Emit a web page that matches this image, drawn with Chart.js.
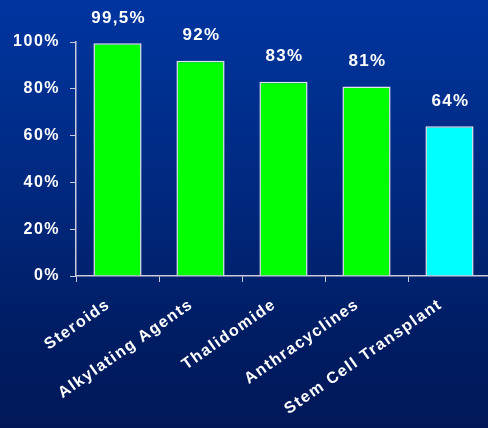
<!DOCTYPE html>
<html>
<head>
<meta charset="utf-8">
<script src="https://cdn.jsdelivr.net/npm/chart.js@4"></script>
<style>
  html, body {
    margin: 0;
    padding: 0;
    width: 488px;
    height: 428px;
    overflow: hidden;
    background: linear-gradient(to bottom, #0035a0 0%, #002a82 40%, #001c62 80%, #001858 100%);
  }
  #wrap {
    position: relative;
    width: 491px;
    height: 428px;
  }
</style>
</head>
<body>
<div id="wrap"><canvas id="chart"></canvas></div>
<script>
const categories = ['Steroids', 'Alkylating Agents', 'Thalidomide', 'Anthracyclines', 'Stem Cell Transplant'];
const responseRates = [99.5, 92, 83, 81, 64];
const barColors = ['#00ff00', '#00ff00', '#00ff00', '#00ff00', '#00ffff'];
const yTicks = [0, 20, 40, 60, 80, 100];

const pct = (v) => `${String(v).replace('.', ',')}%`;
const axisColor = '#c9cbdc';

// wider letter spacing, like the slide text
const spacingPlugin = {
  id: 'spacing',
  beforeDraw(chart) {
    chart.ctx.letterSpacing = '1.5px';
  },
};

// value printed above each bar
const valueLabels = {
  id: 'valueLabels',
  afterDatasetsDraw(chart) {
    const { ctx } = chart;
    const meta = chart.getDatasetMeta(0);
    ctx.save();
    ctx.letterSpacing = '1.3px';
    ctx.font = 'bold 17px "Liberation Sans", Arial, sans-serif';
    ctx.fillStyle = '#ffffff';
    ctx.textAlign = 'center';
    ctx.textBaseline = 'middle';
    meta.data.forEach((bar, i) => {
      ctx.fillText(pct(responseRates[i]), bar.x + 1, bar.y - 25);
    });
    ctx.restore();
  },
};

new Chart(document.getElementById('chart'), {
  type: 'bar',
  data: {
    labels: categories,
    datasets: [{
      data: responseRates,
      backgroundColor: barColors,
      borderColor: '#e4e6ee',
      borderWidth: 1.5,
      barPercentage: 0.58,
      categoryPercentage: 1,
    }],
  },
  options: {
    responsive: true,
    maintainAspectRatio: false,
    animation: false,
    layout: {
      padding: { top: 42, right: 0, left: 0, bottom: 0 },
    },
    plugins: {
      legend: { display: false },
      tooltip: { enabled: false },
    },
    scales: {
      x: {
        grid: {
          display: true,
          drawOnChartArea: false,
          color: axisColor,
          tickLength: 6,
          lineWidth: 1,
        },
        border: { color: axisColor, width: 1.5 },
        ticks: {
          color: '#ffffff',
          font: { family: '"Liberation Sans", Arial, sans-serif', size: 16, weight: 'bold' },
          minRotation: 35,
          maxRotation: 35,
          autoSkip: false,
          padding: 13,
          labelOffset: -9,
        },
        afterFit(scale) {
          scale.height = 152;
        },
      },
      y: {
        min: 0,
        max: 100,
        afterBuildTicks(scale) {
          scale.ticks = yTicks.map((value) => ({ value }));
        },
        grid: {
          display: true,
          drawOnChartArea: false,
          color: axisColor,
          tickLength: 6,
          lineWidth: 1,
        },
        border: { color: axisColor, width: 1.5 },
        ticks: {
          color: '#ffffff',
          font: { family: '"Liberation Sans", Arial, sans-serif', size: 16, weight: 'bold' },
          padding: 10,
          callback: (v) => `${v}%`,
        },
        afterFit(scale) {
          scale.width = 76;
        },
      },
    },
  },
  plugins: [spacingPlugin, valueLabels],
});
</script>
</body>
</html>
